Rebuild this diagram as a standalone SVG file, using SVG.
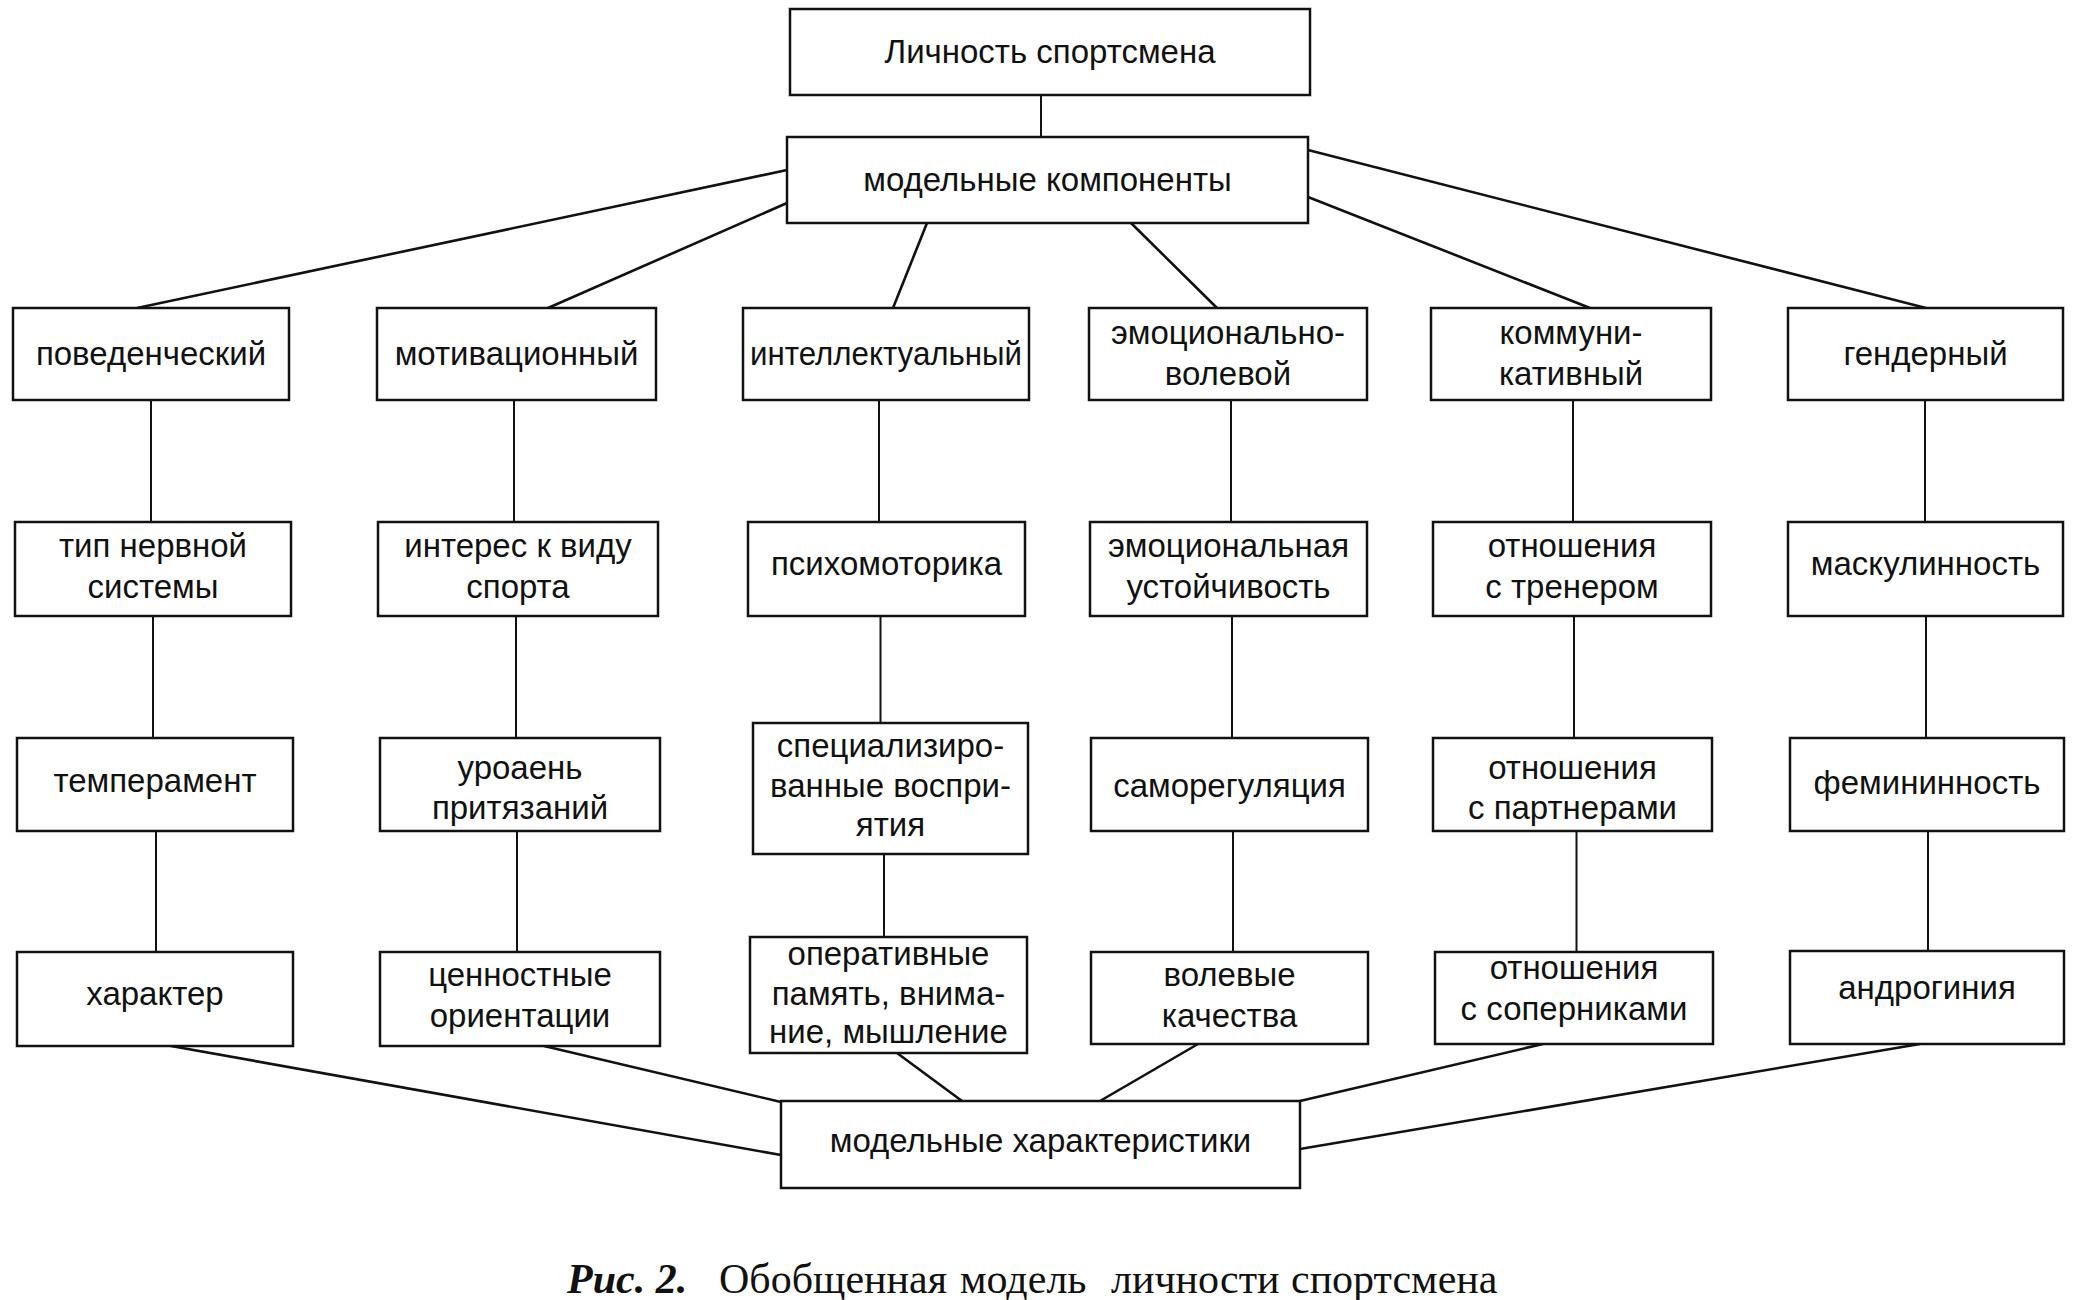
<svg xmlns="http://www.w3.org/2000/svg" width="2085" height="1300" viewBox="0 0 2085 1300">
<style>
  .box { fill: #ffffff; stroke: #111111; stroke-width: 2.5; }
  .lbl { font-family: "Liberation Sans", Arial, sans-serif; font-size: 33px; fill: #111111; text-anchor: middle; }
  .vl { stroke: #111111; stroke-width: 2; fill: none; }
  .dl { stroke: #111111; stroke-width: 2.6; fill: none; }
  .cap { font-family: "Liberation Serif", "Times New Roman", serif; font-size: 42px; fill: #111111; }
</style>
<rect width="2085" height="1300" fill="#ffffff"/>
<g id="connectors">
  <line class="vl" x1="1041" y1="95" x2="1041" y2="137"/>
  <line class="dl" x1="787" y1="170" x2="137" y2="308"/>
  <line class="dl" x1="787" y1="203" x2="548" y2="308"/>
  <line class="dl" x1="927" y1="223" x2="893" y2="308"/>
  <line class="dl" x1="1131" y1="223" x2="1217" y2="308"/>
  <line class="dl" x1="1308" y1="197" x2="1590" y2="308"/>
  <line class="dl" x1="1308" y1="150" x2="1926" y2="308"/>
  <line class="vl" x1="151" y1="400" x2="151" y2="522"/>
  <line class="vl" x1="153" y1="616" x2="153" y2="738"/>
  <line class="vl" x1="156" y1="831" x2="156" y2="952"/>
  <line class="vl" x1="514" y1="400" x2="514" y2="522"/>
  <line class="vl" x1="516" y1="616" x2="516" y2="738"/>
  <line class="vl" x1="517" y1="831" x2="517" y2="952"/>
  <line class="vl" x1="879" y1="400" x2="879" y2="522"/>
  <line class="vl" x1="880.5" y1="616" x2="880.5" y2="723"/>
  <line class="vl" x1="884" y1="854" x2="884" y2="937"/>
  <line class="vl" x1="1231" y1="400" x2="1231" y2="522"/>
  <line class="vl" x1="1232" y1="616" x2="1232" y2="738"/>
  <line class="vl" x1="1233" y1="831" x2="1233" y2="952"/>
  <line class="vl" x1="1573" y1="400" x2="1573" y2="522"/>
  <line class="vl" x1="1574" y1="616" x2="1574" y2="738"/>
  <line class="vl" x1="1576.5" y1="831" x2="1576.5" y2="952"/>
  <line class="vl" x1="1925" y1="400" x2="1925" y2="522"/>
  <line class="vl" x1="1926" y1="616" x2="1926" y2="738"/>
  <line class="vl" x1="1928" y1="831" x2="1928" y2="951"/>
  <line class="dl" x1="171" y1="1046" x2="781" y2="1155"/>
  <line class="dl" x1="544" y1="1046" x2="781" y2="1102"/>
  <line class="dl" x1="897" y1="1053" x2="962" y2="1101"/>
  <line class="dl" x1="1198" y1="1044" x2="1100" y2="1101"/>
  <line class="dl" x1="1543" y1="1044" x2="1300" y2="1101"/>
  <line class="dl" x1="1920" y1="1044" x2="1300" y2="1149"/>
</g>
<g id="n-top"><rect class="box" x="790" y="9" width="520" height="86"/><text class="lbl" x="1050" y="63">Личность спортсмена</text></g>
<g id="n-components"><rect class="box" x="787" y="137" width="521" height="86"/><text class="lbl" x="1047.5" y="191">модельные компоненты</text></g>

<g id="n-behav"><rect class="box" x="13" y="308" width="276" height="92"/><text class="lbl" x="151" y="365">поведенческий</text></g>
<g id="n-motiv"><rect class="box" x="377" y="308" width="279" height="92"/><text class="lbl" x="516.5" y="365">мотивационный</text></g>
<g id="n-intel"><rect class="box" x="743" y="308" width="286" height="92"/><text class="lbl" x="886" y="365" textLength="272" lengthAdjust="spacingAndGlyphs">интеллектуальный</text></g>
<g id="n-emot"><rect class="box" x="1089" y="308" width="278" height="92"/><text class="lbl" x="1228" y="344">эмоционально-</text><text class="lbl" x="1228" y="385">волевой</text></g>
<g id="n-comm"><rect class="box" x="1431" y="308" width="280" height="92"/><text class="lbl" x="1571" y="344">коммуни-</text><text class="lbl" x="1571" y="385">кативный</text></g>
<g id="n-gender"><rect class="box" x="1788" y="308" width="275" height="92"/><text class="lbl" x="1925.5" y="365">гендерный</text></g>

<g id="n-nerv"><rect class="box" x="15" y="522" width="276" height="94"/><text class="lbl" x="153" y="557">тип нервной</text><text class="lbl" x="153" y="598">системы</text></g>
<g id="n-interest"><rect class="box" x="378" y="522" width="280" height="94"/><text class="lbl" x="518" y="557">интерес к виду</text><text class="lbl" x="518" y="598">спорта</text></g>
<g id="n-psycho"><rect class="box" x="748" y="522" width="277" height="94"/><text class="lbl" x="886.5" y="575">психомоторика</text></g>
<g id="n-stab"><rect class="box" x="1090" y="522" width="277" height="94"/><text class="lbl" x="1228.5" y="557">эмоциональная</text><text class="lbl" x="1228.5" y="598">устойчивость</text></g>
<g id="n-coach"><rect class="box" x="1433" y="522" width="278" height="94"/><text class="lbl" x="1572" y="557">отношения</text><text class="lbl" x="1572" y="598">с тренером</text></g>
<g id="n-masc"><rect class="box" x="1788" y="522" width="275" height="94"/><text class="lbl" x="1925.5" y="575">маскулинность</text></g>

<g id="n-temper"><rect class="box" x="17" y="738" width="276" height="93"/><text class="lbl" x="155" y="792">темперамент</text></g>
<g id="n-level"><rect class="box" x="380" y="738" width="280" height="93"/><text class="lbl" x="520" y="779">уроаень</text><text class="lbl" x="520" y="819">притязаний</text></g>
<g id="n-percept"><rect class="box" x="753" y="723" width="275" height="131"/><text class="lbl" x="890.5" y="757">специализиро-</text><text class="lbl" x="890.5" y="797">ванные воспри-</text><text class="lbl" x="890.5" y="836">ятия</text></g>
<g id="n-selfreg"><rect class="box" x="1091" y="738" width="277" height="93"/><text class="lbl" x="1229.5" y="797">саморегуляция</text></g>
<g id="n-partners"><rect class="box" x="1433" y="738" width="279" height="93"/><text class="lbl" x="1572.5" y="779">отношения</text><text class="lbl" x="1572.5" y="819">с партнерами</text></g>
<g id="n-fem"><rect class="box" x="1790" y="738" width="274" height="93"/><text class="lbl" x="1927" y="794">фемининность</text></g>

<g id="n-char"><rect class="box" x="17" y="952" width="276" height="94"/><text class="lbl" x="155" y="1005">характер</text></g>
<g id="n-values"><rect class="box" x="380" y="952" width="280" height="94"/><text class="lbl" x="520" y="986">ценностные</text><text class="lbl" x="520" y="1027">ориентации</text></g>
<g id="n-oper"><rect class="box" x="750" y="937" width="277" height="116"/><text class="lbl" x="888.5" y="965">оперативные</text><text class="lbl" x="888.5" y="1005">память, внима-</text><text class="lbl" x="888.5" y="1043">ние, мышление</text></g>
<g id="n-will"><rect class="box" x="1091" y="952" width="277" height="92"/><text class="lbl" x="1229.5" y="986">волевые</text><text class="lbl" x="1229.5" y="1027">качества</text></g>
<g id="n-rivals"><rect class="box" x="1435" y="952" width="278" height="92"/><text class="lbl" x="1574" y="979">отношения</text><text class="lbl" x="1574" y="1020">с соперниками</text></g>
<g id="n-andro"><rect class="box" x="1790" y="951" width="274" height="93"/><text class="lbl" x="1927" y="999">андрогиния</text></g>

<g id="n-characteristics"><rect class="box" x="781" y="1101" width="519" height="87"/><text class="lbl" x="1040.5" y="1152">модельные характеристики</text></g>

<text class="cap" y="1293"><tspan x="567" font-weight="bold" font-style="italic">Рис. 2.</tspan><tspan x="719">Обобщенная</tspan><tspan x="960">модель</tspan><tspan x="1111">личности</tspan><tspan x="1291">спортсмена</tspan></text>
</svg>
